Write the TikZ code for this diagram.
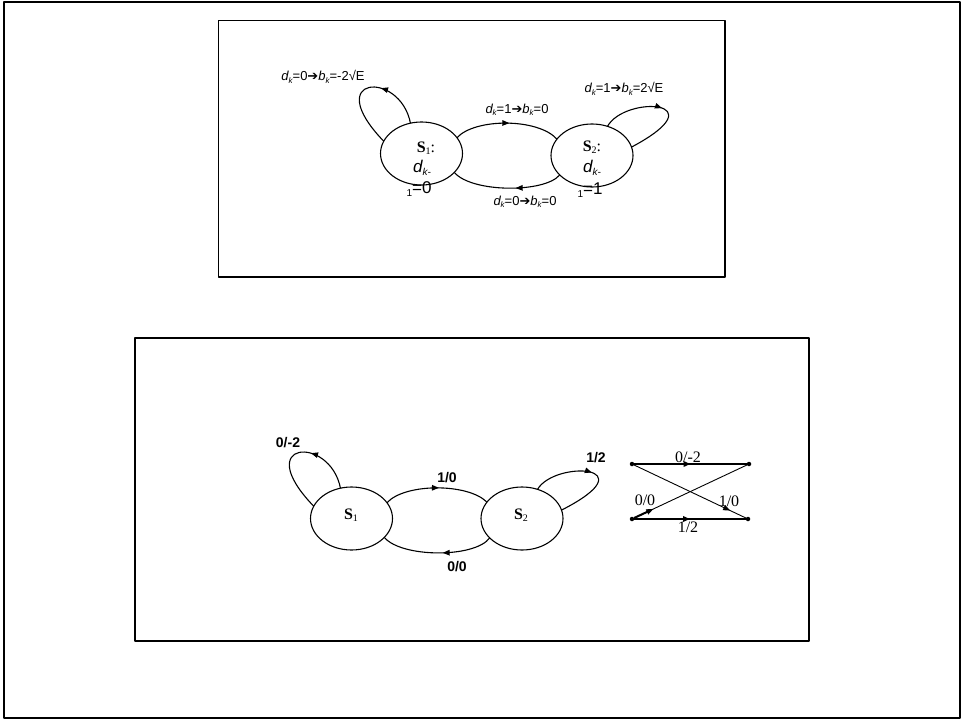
\documentclass[tikz,border=0pt]{standalone}
\usepackage{fontspec}
\usetikzlibrary{arrows.meta,decorations.markings,shapes.geometric,calc}
\newfontfamily\arialf{Liberation Sans}
\newfontfamily\timesf{Liberation Serif}
\newfontfamily\dvf{DejaVu Sans}
\newcommand\subk{\raisebox{-0.35ex}{\fontsize{8}{8}\selectfont\itshape k}}
\newcommand\harr{{\dvf\upshape\fontsize{13}{13}\selectfont ➔}}
\tikzset{
  st/.style={ellipse,draw,line width=1.1pt,minimum width=82pt,minimum height=63pt,inner sep=0pt,outer sep=0pt},
  edge/.style={line width=1.1pt},
  midarrow/.style={postaction={decorate},decoration={markings,mark=at position #1 with {\arrow{Triangle[length=7pt,width=5.5pt]}}}},
  boxline/.style={line width=1.4pt},
  lbl/.style={inner sep=0pt,font=\arialf\fontsize{13}{13}\selectfont},
  blbl/.style={inner sep=0pt,font=\arialf\bfseries\fontsize{14}{14}\selectfont},
  tlbl/.style={inner sep=0pt,font=\timesf\fontsize{16}{16}\selectfont},
  dotnode/.style={circle,fill,inner sep=0pt,minimum size=4.5pt},
  plain/.style={inner sep=0pt}
}
\begin{document}
\begin{tikzpicture}[x=1pt,y=-1pt,line join=round]
\useasboundingbox (0,0) rectangle (961,720);
\draw[line width=2pt] (4,1.5) rectangle (959.5,718);
\draw[boxline] (218.5,20.5) rectangle (725,277);
\draw[boxline] (135,338) rectangle (809,641);

% ---------- top diagram ----------
\node[st] (a1) at (421.5,153.5) {};
\node[st] (a2) at (592,155.5) {};
\draw[edge,midarrow=0.52] (a1.24) .. controls (475,118) and (538,118) .. (a2.155);
\draw[edge,midarrow=0.42] (a2.211) .. controls (545,193) and (472,193) .. (a1.-30);
\draw[edge,midarrow=0.38] (a1.110) .. controls (400,70) and (320,75) .. (a1.162);
\draw[edge,midarrow=0.5] (a2.62) .. controls (625,95) and (720,100) .. (a2.12);

\node[lbl] (t1) at (323,77) {\itshape d\subk\upshape=0\harr\itshape b\subk\upshape=-2√E};
\node[lbl] (t2) at (517,110) {\itshape d\subk\upshape=1\harr\itshape b\subk\upshape=0};
\node[lbl] (t3) at (624,89) {\itshape d\subk\upshape=1\harr\itshape b\subk\upshape=2√E};
\node[lbl] (t4) at (525,202) {\itshape d\subk\upshape=0\harr\itshape b\subk\upshape=0};

\node[plain] (s1a) at (426,148) {\timesf\fontsize{16}{16}\selectfont\textbf{S}\raisebox{-0.3ex}{\fontsize{10}{10}\selectfont 1}:};
\node[plain] (s1b) at (422,168) {\arialf\fontsize{17}{17}\selectfont\itshape d\raisebox{-0.35ex}{\fontsize{10}{10}\selectfont k-}};
\node[plain] (s1c) at (419,189) {\arialf\fontsize{17}{17}\selectfont\raisebox{-0.35ex}{\fontsize{10}{10}\selectfont 1}=0};
\node[plain] (s2a) at (592,147) {\timesf\fontsize{16}{16}\selectfont\textbf{S}\raisebox{-0.3ex}{\fontsize{10}{10}\selectfont 2}:};
\node[plain] (s2b) at (592,168) {\arialf\fontsize{17}{17}\selectfont\itshape d\raisebox{-0.35ex}{\fontsize{10}{10}\selectfont k-}};
\node[plain] (s2c) at (590,190) {\arialf\fontsize{17}{17}\selectfont\raisebox{-0.35ex}{\fontsize{10}{10}\selectfont 1}=1};

% ---------- bottom diagram ----------
\begin{scope}[shift={(-70,363)}]
\node[st] (b1) at (421.5,155.5) {};
\node[st] (b2) at (592,155.5) {};
\draw[edge,midarrow=0.52] (b1.24) .. controls (475,120) and (538,120) .. (b2.155);
\draw[edge,midarrow=0.45] (b2.211) .. controls (545,195) and (472,195) .. (b1.-30);
\draw[edge,midarrow=0.38] (b1.110) .. controls (400,72) and (320,77) .. (b1.162);
\draw[edge,midarrow=0.5] (b2.62) .. controls (625,97) and (720,102) .. (b2.12);
\end{scope}
\node[plain] (u1) at (351,515) {\timesf\fontsize{16}{16}\selectfont\textbf{S}\raisebox{-0.3ex}{\fontsize{10}{10}\selectfont 1}};
\node[plain] (u2) at (521,515) {\timesf\fontsize{16}{16}\selectfont\textbf{S}\raisebox{-0.3ex}{\fontsize{10}{10}\selectfont 2}};
\node[blbl] (l1) at (288,443) {0/-2};
\node[blbl] (l2) at (447,478) {1/0};
\node[blbl] (l3) at (596,458) {1/2};
\node[blbl] (l4) at (457,567) {0/0};

% ---------- trellis ----------
\node[dotnode] (p1) at (632,464) {};
\node[dotnode] (p2) at (749,464) {};
\node[dotnode] (p3) at (632,519) {};
\node[dotnode] (p4) at (748,519) {};
\draw[line width=2pt,midarrow=0.5] (p1) -- (p2);
\draw[line width=2pt,midarrow=0.5] (p3) -- (p4);
\draw[line width=0.9pt,midarrow=0.86] (p1) -- (p4);
\draw[line width=0.9pt,midarrow=0.17] (p3) -- (p2);
\draw[line width=2pt] (p3) -- ($(p3)!0.15!(p2)$);
\node[tlbl] (q1) at (688,457) {0/-2};
\node[tlbl] (q2) at (645,500) {0/0};
\node[tlbl] (q3) at (729,501) {1/0};
\node[tlbl] (q4) at (688,527) {1/2};
\end{tikzpicture}
\end{document}
